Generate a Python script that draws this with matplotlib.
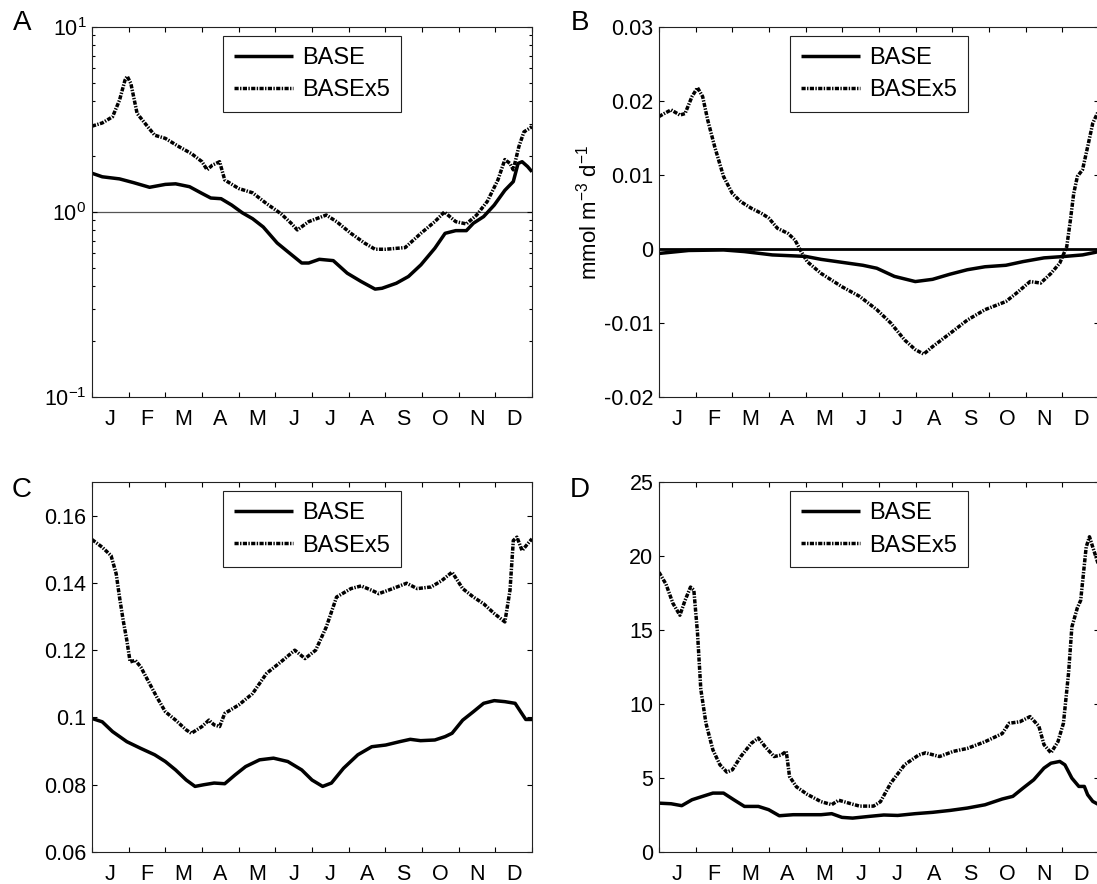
import numpy as np
import matplotlib
matplotlib.use("Agg")
import matplotlib.pyplot as plt
from matplotlib.ticker import FixedLocator, NullFormatter, LogLocator

plt.rcParams.update({
    "font.family": ["Liberation Sans", "DejaVu Sans"],
    "mathtext.fontset": "custom",
    "mathtext.rm": "Liberation Sans",
    "mathtext.it": "Liberation Sans:italic",
    "axes.unicode_minus": False,
    "lines.scale_dashes": False,
})

MONTHS = ["J", "F", "M", "A", "M", "J", "J", "A", "S", "O", "N", "D"]

# ---- panel A (log scale) ----
a_base_m = [0, 0.28, 0.75, 1.14, 1.57, 2.0, 2.28, 2.66, 3.0, 3.24, 3.52, 3.81, 4.1, 4.38,
            4.67, 5.05, 5.34, 5.72, 5.91, 6.2, 6.58, 6.96, 7.34, 7.72, 7.91, 8.3, 8.63,
            8.97, 9.35, 9.63, 9.92, 10.21, 10.4, 10.68, 10.97, 11.26, 11.49, 11.62,
            11.73, 11.88, 12.0]
a_base_v = [1.62, 1.55, 1.51, 1.44, 1.36, 1.41, 1.42, 1.37, 1.26, 1.19, 1.18, 1.09, 0.99,
            0.92, 0.83, 0.68, 0.61, 0.53, 0.53, 0.555, 0.546, 0.467, 0.421, 0.383, 0.387,
            0.412, 0.448, 0.518, 0.637, 0.767, 0.793, 0.793, 0.869, 0.944, 1.09, 1.31,
            1.46, 1.83, 1.87, 1.76, 1.65]
a_x5_m = [0, 0.28, 0.56, 0.75, 0.9, 0.96, 1.06, 1.23, 1.52, 1.71, 2.0, 2.38, 2.71, 3.0,
          3.14, 3.28, 3.48, 3.62, 4.0, 4.38, 4.76, 5.15, 5.43, 5.6, 5.91, 6.39, 6.67,
          7.06, 7.44, 7.72, 8.01, 8.54, 8.97, 9.35, 9.61, 9.92, 10.21, 10.49, 10.78,
          11.07, 11.26, 11.4, 11.49, 11.64, 11.78, 12.0]
a_x5_v = [2.91, 3.03, 3.27, 4.02, 5.16, 5.42, 4.95, 3.41, 2.89, 2.6, 2.5, 2.25, 2.07, 1.87,
          1.69, 1.79, 1.87, 1.49, 1.34, 1.27, 1.11, 0.98, 0.87, 0.8, 0.887, 0.963, 0.887,
          0.767, 0.678, 0.629, 0.629, 0.642, 0.767, 0.887, 1.0, 0.887, 0.862, 0.963,
          1.14, 1.49, 1.92, 1.83, 1.69, 2.25, 2.71, 2.89]

# ---- panel B ----
b_base_m = [0, 0.81, 1.76, 2.33, 3.09, 4.0, 4.42, 4.99, 5.56, 5.94, 6.42, 6.99, 7.46,
            7.94, 8.41, 8.89, 9.46, 9.93, 10.5, 11.07, 11.55, 11.91, 12.0]
b_base_v = [-0.0006, -0.0002, -0.00013, -0.00035, -0.0008, -0.001, -0.0014, -0.0018,
            -0.0022, -0.0026, -0.0037, -0.0044, -0.0041, -0.0034, -0.0028, -0.0024,
            -0.0022, -0.0017, -0.0012, -0.001, -0.0008, -0.00044, -0.0003]
b_x5_m = [0, 0.14, 0.33, 0.57, 0.71, 0.9, 1.05, 1.19, 1.33, 1.52, 1.76, 2.0, 2.23, 2.52,
          2.8, 2.99, 3.23, 3.52, 3.71, 3.85, 4.04, 4.42, 4.99, 5.47, 5.94, 6.32, 6.7,
          6.99, 7.22, 7.46, 7.94, 8.41, 8.89, 9.46, 9.74, 10.12, 10.41, 10.69, 10.93,
          11.12, 11.22, 11.31, 11.41, 11.55, 11.69, 11.83, 12.0]
b_x5_v = [0.0179, 0.0183, 0.0188, 0.0181, 0.0183, 0.0206, 0.0218, 0.0206, 0.0174, 0.0138,
          0.0098, 0.0075, 0.0064, 0.0055, 0.0048, 0.0042, 0.0028, 0.0021, 0.0012,
          -0.0001, -0.0017, -0.0033, -0.0051, -0.0064, -0.0082, -0.0100, -0.0123,
          -0.0136, -0.0142, -0.0132, -0.0114, -0.0096, -0.0082, -0.0071, -0.0060,
          -0.0044, -0.0046, -0.0033, -0.0019, 0.0003, 0.0039, 0.0075, 0.0098, 0.0107,
          0.0138, 0.0170, 0.0188]

# ---- panel C ----
c_base_m = [0, 0.28, 0.56, 0.95, 1.33, 1.71, 2.0, 2.28, 2.57, 2.81, 3.05, 3.33, 3.62, 3.9,
            4.19, 4.57, 4.95, 5.34, 5.72, 6.0, 6.29, 6.53, 6.86, 7.25, 7.63, 8.01, 8.39,
            8.68, 8.96, 9.35, 9.63, 9.82, 10.11, 10.4, 10.68, 10.97, 11.26, 11.54, 11.69,
            11.83, 12.0]
c_base_v = [0.0997, 0.0987, 0.0958, 0.0928, 0.0908, 0.0889, 0.0869, 0.0844, 0.0814, 0.0795,
            0.0800, 0.0805, 0.0803, 0.0829, 0.0854, 0.0874, 0.0879, 0.0869, 0.0844, 0.0814,
            0.0795, 0.0805, 0.0849, 0.0889, 0.0913, 0.0918, 0.0928, 0.0935, 0.0931, 0.0933,
            0.0943, 0.0953, 0.0992, 0.1017, 0.1042, 0.1050, 0.1047, 0.1042, 0.1017,
            0.0994, 0.0994]
c_x5_m = [0, 0.28, 0.52, 0.66, 0.75, 0.85, 0.95, 1.04, 1.18, 1.33, 1.52, 1.76, 2.0, 2.28,
          2.57, 2.71, 3.0, 3.19, 3.33, 3.48, 3.62, 4.0, 4.38, 4.76, 5.15, 5.53, 5.81, 6.1,
          6.39, 6.67, 7.06, 7.34, 7.63, 7.82, 8.2, 8.58, 8.87, 9.25, 9.54, 9.82, 10.11,
          10.4, 10.68, 10.97, 11.26, 11.4, 11.49, 11.59, 11.73, 11.88, 12.0]
c_x5_v = [0.1529, 0.1506, 0.1481, 0.1427, 0.1358, 0.1289, 0.1229, 0.1165, 0.1170, 0.1150,
          0.1111, 0.1062, 0.1017, 0.0992, 0.0963, 0.0953, 0.0973, 0.0992, 0.0978, 0.0973,
          0.1012, 0.1037, 0.1071, 0.1131, 0.1165, 0.1200, 0.1175, 0.1200, 0.1269, 0.1358,
          0.1383, 0.1391, 0.1378, 0.1368, 0.1383, 0.1399, 0.1383, 0.1388, 0.1407, 0.1432,
          0.1383, 0.1358, 0.1338, 0.1309, 0.1284, 0.1378, 0.1526, 0.1536, 0.1496, 0.1516,
          0.1531]

# ---- panel D ----
d_base_m = [0, 0.33, 0.62, 0.9, 1.19, 1.47, 1.76, 2.04, 2.33, 2.71, 2.99, 3.28, 3.66, 4.04,
            4.42, 4.71, 4.99, 5.28, 5.75, 6.13, 6.51, 6.99, 7.46, 7.94, 8.41, 8.89, 9.36,
            9.65, 9.93, 10.22, 10.5, 10.69, 10.93, 11.07, 11.26, 11.45, 11.6, 11.69,
            11.83, 12.0]
d_base_v = [3.3, 3.26, 3.13, 3.53, 3.76, 3.98, 3.98, 3.53, 3.08, 3.08, 2.86, 2.45, 2.52,
            2.52, 2.52, 2.59, 2.34, 2.29, 2.41, 2.5, 2.47, 2.59, 2.68, 2.81, 2.97, 3.19,
            3.58, 3.76, 4.32, 4.88, 5.67, 6.0, 6.12, 5.89, 4.99, 4.43, 4.43, 3.87, 3.42,
            3.19]
d_x5_m = [0, 0.19, 0.38, 0.57, 0.71, 0.86, 0.95, 1.05, 1.14, 1.28, 1.47, 1.66, 1.85, 2.0,
          2.23, 2.52, 2.71, 2.9, 3.14, 3.33, 3.47, 3.56, 3.75, 4.04, 4.42, 4.71, 4.9,
          5.18, 5.47, 5.85, 6.04, 6.32, 6.7, 7.08, 7.27, 7.65, 8.03, 8.41, 8.89, 9.36,
          9.55, 9.84, 10.12, 10.36, 10.5, 10.69, 10.88, 11.03, 11.17, 11.26, 11.41,
          11.5, 11.65, 11.74, 11.83, 12.0]
d_x5_v = [18.9, 18.1, 16.8, 16.0, 17.0, 17.9, 17.7, 14.8, 11.0, 8.7, 6.9, 5.9, 5.4, 5.55,
          6.45, 7.35, 7.7, 7.1, 6.45, 6.55, 6.8, 5.1, 4.4, 3.9, 3.4, 3.2, 3.5, 3.3, 3.1,
          3.1, 3.4, 4.65, 5.9, 6.55, 6.7, 6.45, 6.8, 7.0, 7.45, 8.0, 8.7, 8.8, 9.15, 8.5,
          7.25, 6.7, 7.45, 8.7, 12.1, 15.2, 16.5, 17.0, 20.6, 21.3, 20.6, 19.3]

W, H = 1097, 884
fig = plt.figure(figsize=(W / 100, H / 100), dpi=100)


def make_ax(x0, y0):
    # pixel box -> figure fraction; axes are 440 x 370 px
    return fig.add_axes([x0 / W, 1 - (y0 + 370) / H, 440 / W, 370 / H])


axA = make_ax(92, 27)
axB = make_ax(659, 27)
axC = make_ax(92, 482)
axD = make_ax(659, 482)

DASH = (0, (3.0, 1.0, 1.0, 1.0))
LW = 2.5


def draw(ax, bm, bv, xm, xv):
    ax.plot(bm, bv, color="black", lw=LW, label="BASE", solid_capstyle="butt")
    ax.plot(xm, xv, color="black", lw=LW, ls=DASH, label="BASEx5",
            dash_capstyle="butt")
    ax.set_xlim(0, 12)
    ax.xaxis.set_major_locator(FixedLocator(np.arange(0, 13)))
    ax.xaxis.set_major_formatter(NullFormatter())
    ax.xaxis.set_minor_locator(FixedLocator(np.arange(0.5, 12, 1)))
    ax.set_xticklabels(MONTHS, minor=True)
    ax.tick_params(axis="x", which="minor", length=0, pad=9, labelsize=15.5)
    ax.tick_params(axis="x", which="major", direction="in", top=True, length=3.5,
                   width=0.8)
    ax.tick_params(axis="y", which="both", direction="in", right=True, width=0.8,
                   labelsize=15.5, pad=4)
    ax.tick_params(axis="y", which="major", length=3.5)
    ax.tick_params(axis="y", which="minor", length=2.2)
    for s in ax.spines.values():
        s.set_linewidth(0.8)
        s.set_color("#222222")
    leg = ax.legend(loc="upper center", bbox_to_anchor=(0.5, 0.975), fontsize=17,
                    handlelength=2.5, handletextpad=0.4, borderpad=0.45,
                    labelspacing=0.45, borderaxespad=0, fancybox=False,
                    framealpha=1, edgecolor="#222222")
    leg.get_frame().set_linewidth(0.8)


draw(axA, a_base_m, a_base_v, a_x5_m, a_x5_v)
axA.set_yscale("log")
axA.set_ylim(0.1, 10)
axA.yaxis.set_major_locator(LogLocator(base=10, numticks=5))
axA.yaxis.set_minor_locator(LogLocator(base=10, subs=np.arange(2, 10), numticks=20))
axA.yaxis.set_minor_formatter(NullFormatter())
axA.axhline(1, color="#555555", lw=0.9, zorder=1)

draw(axB, b_base_m, b_base_v, b_x5_m, b_x5_v)
axB.set_ylim(-0.02, 0.03)
axB.set_yticks([-0.02, -0.01, 0, 0.01, 0.02, 0.03])
axB.set_yticklabels(["-0.02", "-0.01", "0", "0.01", "0.02", "0.03"])
axB.axhline(0, color="black", lw=2.0, zorder=1)
axB.set_ylabel("mmol m$^{-3}$ d$^{-1}$", fontsize=16, labelpad=2)

draw(axC, c_base_m, c_base_v, c_x5_m, c_x5_v)
axC.set_ylim(0.06, 0.17)
axC.set_yticks([0.06, 0.08, 0.1, 0.12, 0.14, 0.16])
axC.set_yticklabels(["0.06", "0.08", "0.1", "0.12", "0.14", "0.16"])

draw(axD, d_base_m, d_base_v, d_x5_m, d_x5_v)
axD.set_ylim(0, 25)
axD.set_yticks([0, 5, 10, 15, 20, 25])

for lab, px, py in [("A", 22, 23), ("B", 580, 23), ("C", 22, 490), ("D", 580, 490)]:
    fig.text(px / W, 1 - py / H, lab, fontsize=20, ha="center", va="center")

fig.savefig("out.png", dpi=100)
